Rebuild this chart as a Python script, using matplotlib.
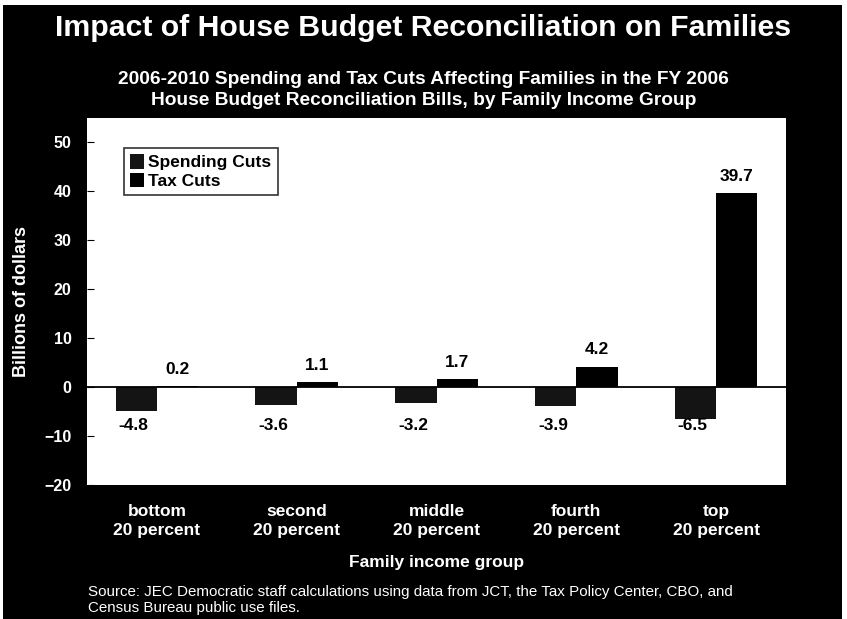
import numpy as np
import matplotlib.pyplot as plt
from matplotlib.patches import Rectangle

plt.rcParams['font.family'] = ['Liberation Sans', 'DejaVu Sans']

groups = ['bottom\n20 percent', 'second\n20 percent', 'middle\n20 percent',
          'fourth\n20 percent', 'top\n20 percent']
spending_cuts = [-4.8, -3.6, -3.2, -3.9, -6.5]
tax_cuts = [0.2, 1.1, 1.7, 4.2, 39.7]
yticks = [-20, -10, 0, 10, 20, 30, 40, 50]

fig = plt.figure(figsize=(8.47, 6.19), dpi=100, facecolor='white')
# black card behind everything, with a thin white margin
fig.patches.append(Rectangle((3 / 847, 0), 839 / 847, 614 / 619,
                             transform=fig.transFigure, facecolor='black',
                             edgecolor='none', zorder=-10))

ax = fig.add_axes([87 / 847, 1 - 485 / 619, 699 / 847, 367 / 619])
ax.set_facecolor('white')

x = np.arange(len(groups))
w = 0.295
ax.bar(x - w / 2, spending_cuts, w, color='#141414', label='Spending Cuts', zorder=3)
ax.bar(x + w / 2, tax_cuts, w, color='black', label='Tax Cuts', zorder=3)
ax.axhline(0, color='black', lw=1.3, zorder=4)

# value labels
for xi, v in zip(x, spending_cuts):
    ax.text(xi - w / 2 - 0.02, -7.8, f'{v:.1f}', ha='center', va='center',
            fontsize=12.5, fontweight='bold', color='black')
for xi, v in zip(x, tax_cuts):
    ax.annotate(f'{v:.1f}', (xi + w / 2, v), xytext=(0, 12),
                textcoords='offset points', ha='center', va='center',
                fontsize=12.5, fontweight='bold', color='black')

ax.set_xlim(-0.5, len(groups) - 0.5)
ax.set_ylim(-20, 55)
ax.set_yticks(yticks)
ax.set_xticks(x)
ax.set_xticklabels(groups, color='white', fontsize=12.5, fontweight='bold',
                   linespacing=1.3)
ax.tick_params(axis='x', length=0, pad=14)
ax.tick_params(axis='y', direction='in', length=5, color='black',
               labelcolor='white', labelsize=11.5, pad=11)
for lbl in ax.get_yticklabels():
    lbl.set_fontweight('bold')
for s in ax.spines.values():
    s.set_visible(False)

ax.set_ylabel('Billions of dollars', color='white', fontsize=13,
              fontweight='bold')
ax.yaxis.set_label_coords((30 - 87) / 699, 0.5)
ax.set_xlabel('Family income group', color='white', fontsize=12.5,
              fontweight='bold')
ax.xaxis.set_label_coords(0.5, -(563 - 485) / 367)
ax.xaxis.label.set_va('center')

leg = ax.legend(loc='upper left', bbox_to_anchor=(0.053, 0.918), frameon=True,
                fancybox=False, edgecolor='black', handlelength=0.8,
                handleheight=0.9, handletextpad=0.25, borderpad=0.35,
                borderaxespad=0, labelspacing=0.15,
                prop={'weight': 'bold', 'size': 12.5})
leg.get_frame().set_linewidth(1.2)

fig.text(0.5, 1 - 28 / 619, 'Impact of House Budget Reconciliation on Families',
         ha='center', va='center', color='white', fontsize=21.8, fontweight='bold')
fig.text(0.5, 1 - 90 / 619,
         '2006-2010 Spending and Tax Cuts Affecting Families in the FY 2006\n'
         'House Budget Reconciliation Bills, by Family Income Group',
         ha='center', va='center', color='white', fontsize=13.8,
         fontweight='bold', linespacing=1.25)
fig.text(88 / 847, 1 - 600 / 619,
         'Source: JEC Democratic staff calculations using data from JCT, the Tax '
         'Policy Center, CBO, and\nCensus Bureau public use files.',
         ha='left', va='center', color='white', fontsize=10.9, linespacing=1.25)

fig.savefig('out.png', dpi=100, facecolor=fig.get_facecolor())
